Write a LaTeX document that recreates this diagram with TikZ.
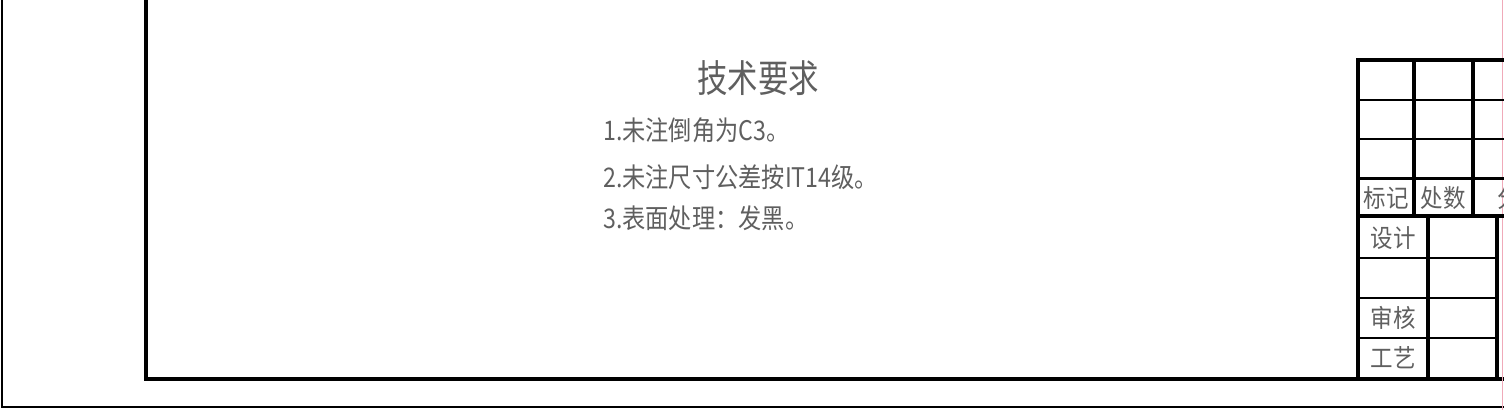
\documentclass[tikz,border=0pt]{standalone}
\usepackage{fontspec}
\usepackage{xcolor}
\newfontfamily\cjk{Noto Sans CJK SC}
\definecolor{Ink}{RGB}{0,0,0}
\definecolor{Grey}{RGB}{95,95,95}
\definecolor{Pink}{RGB}{240,170,185}
\usetikzlibrary{positioning}

\tikzset{
	thick frame/.style={draw=Ink, line width=4pt, line cap=rect},
	thin frame/.style={draw=Ink, line width=1.2pt},
	cell line/.style={draw=Ink, line width=2pt},
	note/.style={font=\cjk\fontsize{27}{27}\selectfont, text=Grey, inner sep=0pt, anchor=west, xscale=0.86},
	cell text/.style={font=\cjk\fontsize{25}{25}\selectfont, text=Grey, inner sep=0pt, xscale=0.9},
}

\begin{document}
\begin{tikzpicture}[x=1pt, y=-1pt]
		\useasboundingbox (0,0) rectangle (1504,410);
		
		% Frame
		\draw[thin frame] (2,0) -- (2,407) -- (1504,407);
		\draw[thick frame] (146,0) -- (146,379) -- (1504,379);
		\draw[Pink, line width=1pt] (1502.5,0) -- (1502.5,410);
		
		% Title block
		\draw[thick frame] (1358,379) -- (1358,60) -- (1504,60);
		\draw[thick frame] (1414,60) -- (1414,216);
		\draw[thick frame] (1473,60) -- (1473,216);
		\draw[cell line] (1358,100) -- (1504,100);
		\draw[cell line] (1358,139) -- (1504,139);
		\draw[line width=3pt] (1358,178) -- (1504,178);
		\draw[thick frame] (1358,216) -- (1504,216);
		\draw[thick frame] (1428,216) -- (1428,379);
		\draw[thick frame] (1497,216) -- (1497,379);
		\draw[cell line] (1358,258) -- (1497,258);
		\draw[cell line] (1358,298) -- (1497,298);
		\draw[cell line] (1358,338) -- (1497,338);
		
		% Cell labels
		\node[cell text] (mark)    at (1386,198) {标记};
		\node[cell text] (count)   at (1443,198) {处数};
		\node[cell text, anchor=west] (zone) at (1497,198) {分区};
		\node[cell text] (design)  at (1393,238) {设计};
		\node[cell text] (check)   at (1393,318) {审核};
		\node[cell text] (process) at (1393,358) {工艺};
		
		% Technical requirements
		\node[font=\cjk\fontsize{38}{38}\selectfont, text=Grey, inner sep=0pt, xscale=0.8] (title) at (758,78) {技术要求};
		\node[note] (req1) at (603,130) {1.未注倒角为C3。};
		\node[note] (req2) at (603,177) {2.未注尺寸公差按IT14级。};
		\node[note] (req3) at (603,218) {3.表面处理：发黑。};
		
	\end{tikzpicture}
\end{document}
